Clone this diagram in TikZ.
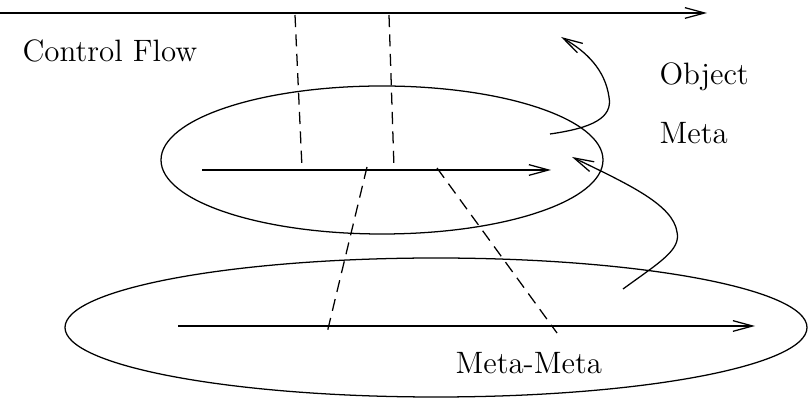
\documentclass[tikz,border=0pt]{standalone}
\usepackage{tikz}
\usetikzlibrary{arrows.meta,calc}

\begin{document}
\begin{tikzpicture}[x=0.0125cm,y=-0.0125cm,
  flow/.style={line width=0.45pt,-{Straight Barb[length=7pt,width=3.8pt,line width=0.45pt]}},
  link/.style={line width=0.45pt,dash pattern=on 4.3pt off 2.6pt},
  lvl/.style={line width=0.45pt},
  lbl/.style={inner sep=0pt,anchor=base west,font=\fontsize{11pt}{13pt}\selectfont}]
\useasboundingbox (0,0) rectangle (809,398);
\draw[lvl] (382,160) ellipse [x radius=221, y radius=74];
\draw[lvl] (436,327.5) ellipse [x radius=371, y radius=69.5];
\coordinate (obj0) at (0,13);
\coordinate (obj1) at (707,13);
\coordinate (met0) at (202,170);
\coordinate (met1) at (551,170);
\coordinate (mm0) at (178,326);
\coordinate (mm1) at (755,326);
\draw[flow] (obj0) -- (obj1);
\draw[flow] (met0) -- (met1);
\draw[flow] (mm0) -- (mm1);
\draw[link] (295,15) -- (302,168);
\draw[link] (389,15) -- (394,168);
\draw[link] (367,167) -- (327,333);
\draw[link] (437,168) -- (557,333);
\node[lbl] (cflow) at (22,62) {Control Flow};
\node[lbl] (object) at (659,85) {Object};
\node[lbl] (meta) at (659,144) {Meta};
\node[lbl] (metameta) at (455,374) {Meta-Meta};
\coordinate (up0) at (550,134);
\coordinate (up1) at (561,37);
\coordinate (down0) at (623,289);
\coordinate (down1) at (572,157);
\draw[flow] (up0) .. controls (592,128) and (613,118) .. (609,97)
  .. controls (605,70) and (587,52) .. (up1);
\draw[flow] (down0) .. controls (660,262) and (681,250) .. (677,232)
  .. controls (673,205) and (630,185) .. (down1);
\end{tikzpicture}
\end{document}
